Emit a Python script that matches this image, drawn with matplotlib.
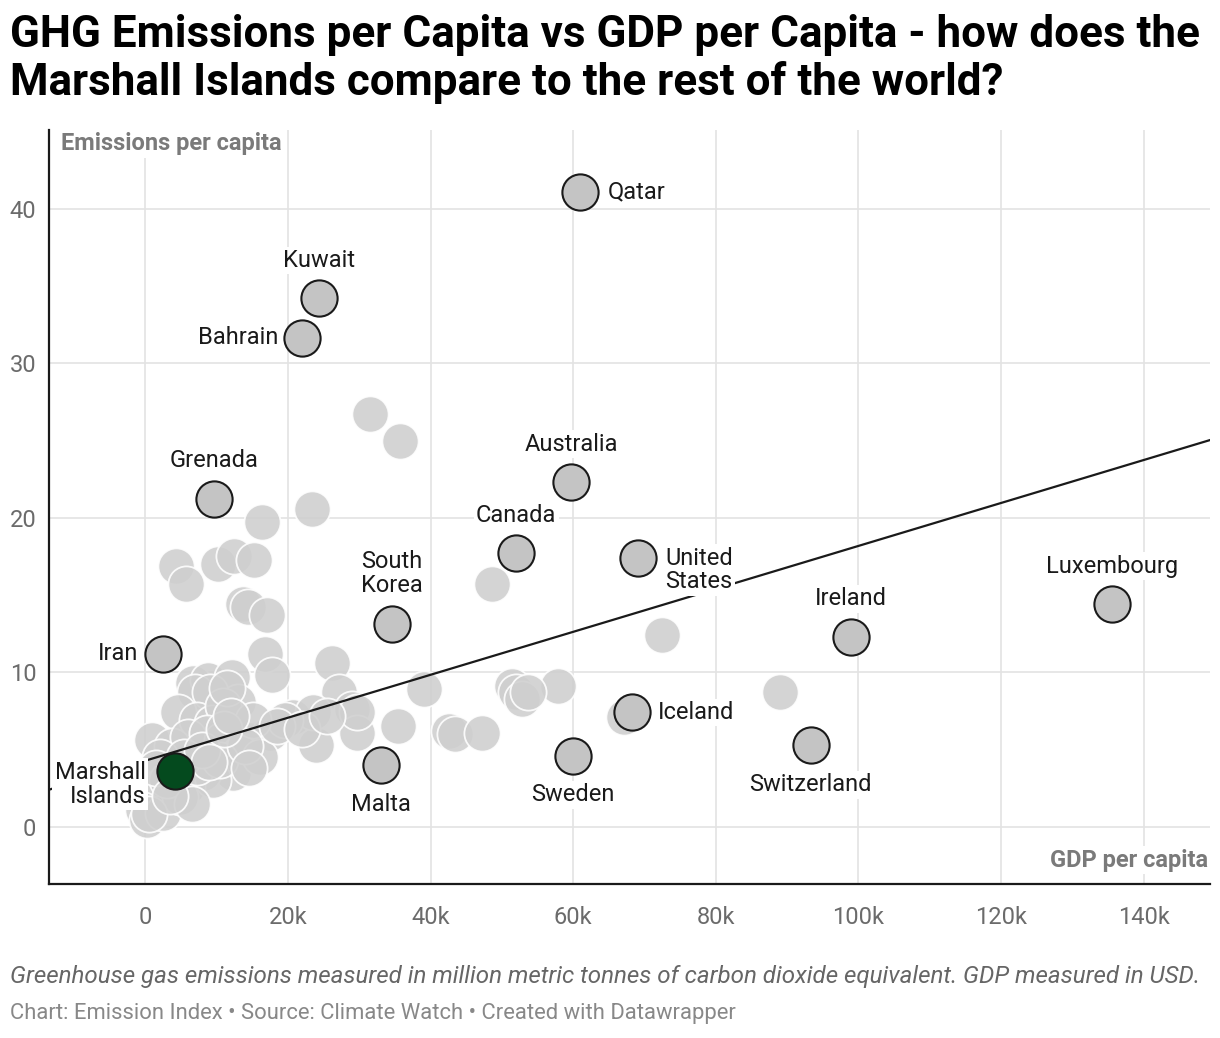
import matplotlib.pyplot as plt
import matplotlib.ticker as mticker
import numpy as np

plt.rcParams['font.family'] = ['Roboto', 'DejaVu Sans']

# Data: GDP per capita in thousand USD, emissions per capita
labeled_names = ['Qatar', 'Kuwait', 'Bahrain', 'Grenada', 'Australia', 'Canada',
                 'United\nStates', 'South\nKorea', 'Luxembourg', 'Ireland', 'Iran',
                 'Iceland', 'Switzerland', 'Sweden', 'Malta']
labeled_gdp = [61.0, 24.4, 22.0, 9.7, 59.7, 52.0, 69.1, 34.6, 135.5, 98.9, 2.5,
               68.3, 93.3, 60.0, 33.1]
labeled_emis = [41.1, 34.2, 31.65, 21.2, 22.3, 17.7, 17.4, 13.1, 14.4, 12.3, 11.2,
                7.4, 5.3, 4.6, 4.0]

focus_name = 'Marshall\nIslands'
focus_gdp = 4.1
focus_emis = 3.6

other_gdp = [31.5, 35.7, 23.4, 16.4, 4.3, 5.7, 10.2, 12.5, 15.3, 13.7, 14.4, 17.0,
             16.8, 17.7, 26.2, 48.6, 72.5, 89.0, 39.1, 27.2, 29.0, 57.9, 51.4, 52.0,
             52.8, 53.7, 42.6, 43.4, 47.2, 35.5, 24.0, 29.7, 67.1,
             6.7, 8.8, 12.2, 7.0, 9.1, 13.0, 4.6, 7.3, 9.4, 10.9, 1.0, 3.8, 6.0, 8.7,
             10.8, 14.7, 17.5, 20.7, 23.5, 19.6, 29.7, 13.3, 12.3, 8.1, 5.9, 1.1,
             -0.3, 0.3, 2.5, 4.9, 9.5, 7.3, 10.5, 15.1, 16.1,
             2.0, 3.0, 5.5, 11.5, 14.0, 18.5, 22.0, 25.5, 1.5, 6.5, 0.5, 3.5, 8.0,
             11.0, 14.5, 12.0, 9.0]
other_emis = [26.7, 25.0, 20.6, 19.7, 16.9, 15.7, 17.0, 17.5, 17.3, 14.4, 14.2, 13.7,
              11.2, 9.8, 10.6, 15.7, 12.4, 8.7, 8.9, 8.7, 7.6, 9.1, 9.1, 8.7,
              8.3, 8.7, 6.2, 6.0, 6.1, 6.5, 5.3, 6.1, 7.1,
              9.3, 9.5, 9.7, 8.7, 8.7, 8.1, 7.4, 6.9, 6.7, 7.8, 5.6, 5.2, 5.8, 6.1,
              5.6, 5.6, 6.1, 7.1, 7.4, 6.9, 7.4, 4.8, 3.5, 3.5, 2.6, 2.2,
              1.1, 0.45, 0.9, 1.9, 3.0, 3.9, 4.3, 6.9, 4.5,
              4.5, 3.0, 4.5, 9.0, 5.2, 6.5, 6.3, 7.2, 3.8, 1.5, 0.8, 2.0, 5.0,
              6.3, 3.8, 7.2, 4.2]

# trend line (emissions = intercept + slope * gdp_k)
trend_intercept = 4.28
trend_slope = 0.139

# label placement (offset in pixels, alignment)
label_pos = {
    'Qatar': (27, 0, 'left'), 'Kuwait': (0, 38, 'center'), 'Bahrain': (-24, 0, 'right'),
    'Grenada': (0, 39, 'center'), 'Australia': (0, 38, 'center'), 'Canada': (0, 38, 'center'),
    'United\nStates': (27, -12, 'left'), 'South\nKorea': (0, 51, 'center'),
    'Luxembourg': (0, 38, 'center'), 'Ireland': (0, 38, 'center'), 'Iran': (-25, 0, 'right'),
    'Iceland': (26, 0, 'left'), 'Switzerland': (0, -40, 'center'), 'Sweden': (0, -39, 'center'),
    'Malta': (0, -39, 'center'), 'Marshall\nIslands': (-29, -13, 'right'),
}

fig = plt.figure(figsize=(12.2, 10.38), dpi=100)
ax = fig.add_axes([49 / 1220, 1 - 884 / 1038, (1210 - 49) / 1220, (884 - 130) / 1038])

ax.set_xlim(-13.5, 149.3)
ax.set_ylim(-3.7, 45.1)

ax.scatter(other_gdp, other_emis, s=680, color='#cfcfcf', alpha=0.88,
           edgecolors='white', linewidths=1.3, zorder=2)

xs = np.array(ax.get_xlim())
ax.plot(xs, trend_intercept + trend_slope * xs, color='#1a1a1a', lw=1.6, zorder=3)

ax.scatter(labeled_gdp, labeled_emis, s=680, color='#c4c4c4',
           edgecolors='#1a1a1a', linewidths=1.5, zorder=4)
ax.scatter([focus_gdp], [focus_emis], s=680, color='#044a1e',
           edgecolors='#1a1a1a', linewidths=1.5, zorder=5)

for name, gx, ey in zip(labeled_names + [focus_name], labeled_gdp + [focus_gdp],
                        labeled_emis + [focus_emis]):
    dx, dy, ha = label_pos[name]
    ax.annotate(name, (gx, ey), xytext=(dx, dy), textcoords='offset pixels',
                ha=ha, va='center', ma=ha, fontsize=17, color='#1a1a1a',
                linespacing=1.05, zorder=6, annotation_clip=False,
                bbox=dict(boxstyle='square,pad=0.1', fc='white', ec='none'))

ax.set_xticks([0, 20, 40, 60, 80, 100, 120, 140])
ax.set_yticks([0, 10, 20, 30, 40])
ax.xaxis.set_major_formatter(mticker.FuncFormatter(lambda v, p: '0' if v == 0 else f'{v:.0f}k'))
ax.tick_params(length=0, labelsize=17, labelcolor='#6b6b6b')
ax.tick_params(axis='x', pad=16)
ax.tick_params(axis='y', pad=9)
ax.grid(color='#e3e3e3', lw=1.2, zorder=0)
ax.set_axisbelow(True)
for s in ['top', 'right']:
    ax.spines[s].set_visible(False)
for s in ['left', 'bottom']:
    ax.spines[s].set_color('#1a1a1a')
    ax.spines[s].set_linewidth(1.6)

ax.text(61 / 1220, 1 - 144 / 1038, 'Emissions per capita', transform=fig.transFigure,
        fontsize=17, fontweight='bold', color='#7a7a7a', va='center', ha='left',
        bbox=dict(boxstyle='square,pad=0.1', fc='white', ec='none'), zorder=7)
ax.text(1208 / 1220, 1 - 860 / 1038, 'GDP per capita', transform=fig.transFigure,
        fontsize=17, fontweight='bold', color='#7a7a7a', va='center', ha='right',
        bbox=dict(boxstyle='square,pad=0.1', fc='white', ec='none'), zorder=7)

fig.text(10 / 1220, 1 - 35 / 1038,
         'GHG Emissions per Capita vs GDP per Capita - how does the',
         fontsize=31.7, fontweight='bold', color='black', va='center', ha='left')
fig.text(10 / 1220, 1 - 83 / 1038,
         'Marshall Islands compare to the rest of the world?',
         fontsize=31.7, fontweight='bold', color='black', va='center', ha='left')

fig.text(10 / 1220, 1 - 977 / 1038,
         'Greenhouse gas emissions measured in million metric tonnes of carbon dioxide equivalent. GDP measured in USD.',
         fontsize=17.4, style='italic', color='#666666', va='center', ha='left')
fig.text(10 / 1220, 1 - 1014 / 1038,
         'Chart: Emission Index \u2022 Source: Climate Watch \u2022 Created with Datawrapper',
         fontsize=15.8, color='#888888', va='center', ha='left')

fig.savefig('out.png', dpi=100)
